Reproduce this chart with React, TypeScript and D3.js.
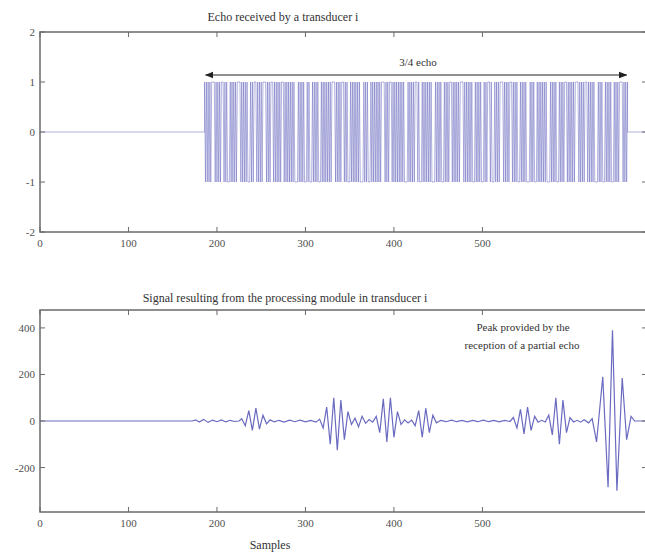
import React from "react";
import * as d3 from "d3";

// ---------- data ----------
const xTicks = [0, 100, 200, 300, 400, 500];
const topYTicks = [-2, -1, 0, 1, 2];
const bottomYTicks = [-200, 0, 200, 400];
const xMax = 686;

const topTitle = "Echo received by a transducer i";
const bottomTitle = "Signal resulting from the processing module in transducer i";
const xLabel = "Samples";
const echoLabel = "3/4 echo";
const peakNote = ["Peak provided by the", "reception of a partial echo"];

// echo: binary +/-1 code, alternating each sample except where it holds
const echoStart = 186;
const echoEnd = 664;
const echoHoldSamples = [194, 205, 212, 223, 235, 242, 252, 261, 273, 288, 299, 305, 315, 330, 341, 348, 362, 371, 386, 395, 412, 424, 429, 443, 454, 463, 475, 489, 499, 506, 511, 520, 531, 540, 550, 559, 573, 584, 593, 605, 616, 627, 636, 646, 655];
const echoHoldLengths = [3, 2, 2, 3, 2, 2, 3, 2, 2, 3, 2, 2, 2, 3, 2, 2, 3, 2, 3, 2, 3, 2, 2, 3, 2, 2, 3, 2, 2, 2, 2, 3, 2, 2, 3, 2, 3, 2, 2, 3, 2, 3, 2, 2, 3];

// processed signal: extrema [sample, value]
const processedSignal: [number, number][] = [
  [0, 0], [172, 0],
  [176, 5], [180, -4], [185, 7], [190, -6], [195, 4], [200, -3], [205, 5], [210, -4], [215, 3], [220, -2], [225, 0],
  [228, 10], [232, -20], [236, 45], [240, -40], [244, 55], [248, -35], [252, 25], [256, -12], [260, 5],
  [265, -4], [270, 3], [276, -5], [282, 4], [288, -3], [294, 4], [300, -4], [306, 3], [312, -5], [316, 8],
  [320, -30], [324, 60], [328, -100], [332, 100], [336, -125], [340, 90], [344, -80], [348, 40], [352, -15],
  [356, 12], [360, -25], [364, 20], [368, -10], [372, 6], [376, -5],
  [380, 20], [384, -50], [388, 95], [392, -90], [396, 100], [400, -70], [404, 40], [408, -15],
  [412, 5], [416, -8], [420, 4],
  [424, -20], [428, 45], [432, -70], [436, 55], [440, -50], [444, 25], [448, -8],
  [453, 3], [459, -3], [465, 4], [471, -3], [477, 3], [483, -4], [489, 3], [495, -3], [501, 4], [507, -3], [513, 3], [519, -4], [525, 3], [531, -2],
  [535, 15], [539, -30], [543, 50], [547, -55], [551, 60], [555, -40], [559, 20], [563, -5],
  [567, 3], [571, -4],
  [575, 25], [579, -60], [583, 100], [587, -100], [591, 90], [595, -50], [599, 15],
  [603, -4], [607, 3], [611, -5], [615, 5], [620, -8],
  [624, 10], [629, -90], [636, 190], [642, -285], [647, 390], [652, -300], [658, 185], [663, -80], [668, 20], [672, 0], [686, 0],
];

// ---------- layout ----------
const W = 645, H = 554;
const left = 40, right = 647;
const top1 = 32, bot1 = 232;
const top2 = 310, bot2 = 512;

const x = d3.scaleLinear().domain([0, xMax]).range([left, right]);
const y1 = d3.scaleLinear().domain([-2, 2]).range([bot1, top1]);
const y2 = d3.scaleLinear().domain([-391, 477]).range([bot2, top2]);

function buildEcho(): [number, number][] {
  const holds = new Map<number, number>();
  echoHoldSamples.forEach((s, i) => holds.set(s, echoHoldLengths[i]));
  const pts: [number, number][] = [[0, 0], [echoStart, 0], [echoStart, 1]];
  let v = 1;
  let s = echoStart;
  while (s < echoEnd) {
    const h = holds.get(s);
    if (h) {
      s += h;
      pts.push([s, v]);
    } else {
      s += 1;
      v = -v;
      pts.push([s, v]);
    }
  }
  pts.push([s, 0], [xMax, 0]);
  return pts;
}

const AXIS = "#6a6a6a";
const TXT = "#505050";
const SIG = "#6a6ac0";
const FONT = "'Liberation Serif', 'DejaVu Serif', serif";

function Frame({ y, yTicks, yFmt, t, b }: any) {
  const tl = 5;
  return (
    <g>
      <rect x={left} y={t} width={right - left} height={b - t} fill="none" stroke={AXIS} strokeWidth={1.5} />
      {xTicks.map((v) => (
        <g key={"x" + v}>
          <line x1={x(v)} x2={x(v)} y1={b} y2={b - tl} stroke={AXIS} strokeWidth={1} />
          <line x1={x(v)} x2={x(v)} y1={t} y2={t + tl} stroke={AXIS} strokeWidth={1} />
          <text x={x(v)} y={b + 15} textAnchor="middle" fontSize={11} fill={TXT} fontFamily={FONT}>{v}</text>
        </g>
      ))}
      {yTicks.map((v: number) => (
        <g key={"y" + v}>
          <line x1={left} x2={left + tl} y1={y(v)} y2={y(v)} stroke={AXIS} strokeWidth={1} />
          <line x1={right} x2={right - tl} y1={y(v)} y2={y(v)} stroke={AXIS} strokeWidth={1} />
          <text x={left - 5} y={y(v) + 4} textAnchor="end" fontSize={11} fill={TXT} fontFamily={FONT}>{yFmt(v)}</text>
        </g>
      ))}
    </g>
  );
}

export default function App() {
  const echo = buildEcho();
  const line1 = d3.line<[number, number]>().x((d) => x(d[0])).y((d) => y1(d[1]));
  const line2 = d3.line<[number, number]>().x((d) => x(d[0])).y((d) => y2(d[1]));
  const ax1 = x(echoStart) + 1;
  const ax2 = x(echoEnd) - 1;
  return (
    <svg width={W} height={H} style={{ position: "absolute", left: 0, top: 0, background: "#fff" }}>
      <defs>
        <marker id="ah" viewBox="0 0 10 10" refX="9" refY="5" markerWidth="7" markerHeight="7" orient="auto-start-reverse">
          <path d="M0,1 L10,5 L0,9 z" fill="#222" />
        </marker>
      </defs>
      <rect x={0} y={0} width={W} height={H} fill="#fff" />
      {/* top panel */}
      <text x={283} y={21} textAnchor="middle" fontSize={12} fill="#333" fontFamily={FONT}>{topTitle}</text>
      <path d={line1(echo) || ""} fill="none" stroke={SIG} strokeWidth={0.7} strokeOpacity={0.75} />
      <Frame y={y1} yTicks={topYTicks} yFmt={(v: number) => String(v)} t={top1} b={bot1} />
      <line x1={ax1} x2={ax2} y1={75} y2={75} stroke="#222" strokeWidth={1.2} markerStart="url(#ah)" markerEnd="url(#ah)" />
      <text x={418} y={66} textAnchor="middle" fontSize={11} fill="#333" fontFamily={FONT}>{echoLabel}</text>

      {/* bottom panel */}
      <text x={285} y={302} textAnchor="middle" fontSize={12} fill="#333" fontFamily={FONT}>{bottomTitle}</text>
      <path d={line2(processedSignal) || ""} fill="none" stroke={SIG} strokeWidth={1.2} />
      <Frame y={y2} yTicks={bottomYTicks} yFmt={(v: number) => String(v)} t={top2} b={bot2} />
      <text x={523} y={331} textAnchor="middle" fontSize={11} fill="#333" fontFamily={FONT}>{peakNote[0]}</text>
      <text x={522} y={349} textAnchor="middle" fontSize={11} fill="#333" fontFamily={FONT}>{peakNote[1]}</text>
      <text x={270} y={549} textAnchor="middle" fontSize={12} fill="#333" fontFamily={FONT}>{xLabel}</text>
    </svg>
  );
}
